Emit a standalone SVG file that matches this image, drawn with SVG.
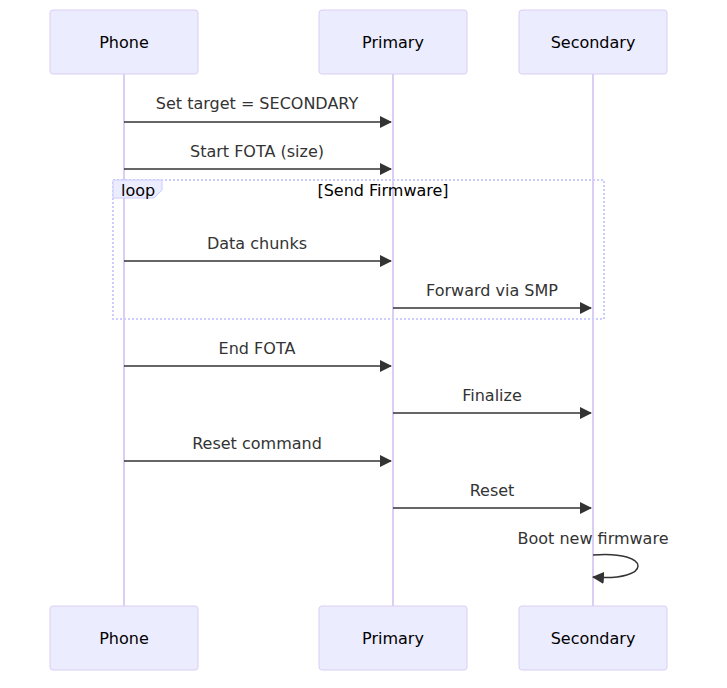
<svg xmlns="http://www.w3.org/2000/svg" width="727" height="688" viewBox="0 0 727 688">
<defs>
<marker id="ah" viewBox="0 0 12 12" refX="11" refY="6" markerWidth="12" markerHeight="12" markerUnits="userSpaceOnUse" orient="auto">
<path d="M0,0 L12,6 L0,12 z" fill="#333"/>
</marker>
</defs>
<style>
.actor{fill:#ECECFF;stroke:#DACEF3;stroke-width:1}
.atext{font-family:"DejaVu Sans",sans-serif;font-size:16px;fill:#000;text-anchor:middle;dominant-baseline:central}
.life{stroke:#DACEF3;stroke-width:2}
.msg{stroke:#333;stroke-width:1.5;fill:none;marker-end:url(#ah)}
.mtext{font-family:"DejaVu Sans",sans-serif;font-size:16px;fill:#333;text-anchor:middle}
.loop{fill:none;stroke:#CCCCFF;stroke-width:2;stroke-dasharray:2 2}
.lbl{fill:#ECECFF;stroke:#CCCCFF;stroke-width:1}
.ltext{font-family:"DejaVu Sans",sans-serif;font-size:16px;fill:#000}
</style>
<rect width="727" height="688" fill="#fff"/>
<g id="lifelines">
<line class="life" x1="124" y1="74" x2="124" y2="606"/>
<line class="life" x1="393" y1="74" x2="393" y2="606"/>
<line class="life" x1="593" y1="74" x2="593" y2="606"/>
</g>
<g id="loop">
<rect class="loop" x="113" y="180" width="491" height="139"/>
<path class="lbl" d="M113,180 L162,180 L162,190 L154,198 L113,198 z"/>
<text class="ltext" x="121" y="196">loop</text>
<text class="ltext" x="383" y="196" text-anchor="middle">[Send Firmware]</text>
</g>
<g id="node-phone-top"><rect class="actor" x="50" y="10" width="148" height="64" rx="3"/><text class="atext" x="124" y="42">Phone</text></g>
<g id="node-primary-top"><rect class="actor" x="319" y="10" width="148" height="64" rx="3"/><text class="atext" x="393" y="42">Primary</text></g>
<g id="node-secondary-top"><rect class="actor" x="519" y="10" width="148" height="64" rx="3"/><text class="atext" x="593" y="42">Secondary</text></g>
<g id="node-phone-bottom"><rect class="actor" x="50" y="606" width="148" height="64" rx="3"/><text class="atext" x="124" y="638">Phone</text></g>
<g id="node-primary-bottom"><rect class="actor" x="319" y="606" width="148" height="64" rx="3"/><text class="atext" x="393" y="638">Primary</text></g>
<g id="node-secondary-bottom"><rect class="actor" x="519" y="606" width="148" height="64" rx="3"/><text class="atext" x="593" y="638">Secondary</text></g>
<g id="connectors">
<line class="msg" x1="124" y1="122" x2="391" y2="122"/>
<text class="mtext" x="257" y="109">Set target = SECONDARY</text>
<line class="msg" x1="124" y1="169" x2="391" y2="169"/>
<text class="mtext" x="257" y="157">Start FOTA (size)</text>
<line class="msg" x1="124" y1="261" x2="391" y2="261"/>
<text class="mtext" x="257" y="249">Data chunks</text>
<line class="msg" x1="393" y1="308" x2="591" y2="308"/>
<text class="mtext" x="492" y="296">Forward via SMP</text>
<line class="msg" x1="124" y1="366" x2="391" y2="366"/>
<text class="mtext" x="257" y="354">End FOTA</text>
<line class="msg" x1="393" y1="413" x2="591" y2="413"/>
<text class="mtext" x="492" y="401">Finalize</text>
<line class="msg" x1="124" y1="461" x2="391" y2="461"/>
<text class="mtext" x="257" y="449">Reset command</text>
<line class="msg" x1="393" y1="508" x2="591" y2="508"/>
<text class="mtext" x="492" y="496">Reset</text>
<path class="msg" d="M593,555 C653,550 653,582 593,577"/>
<text class="mtext" x="593" y="544">Boot new firmware</text>
</g>
</svg>
